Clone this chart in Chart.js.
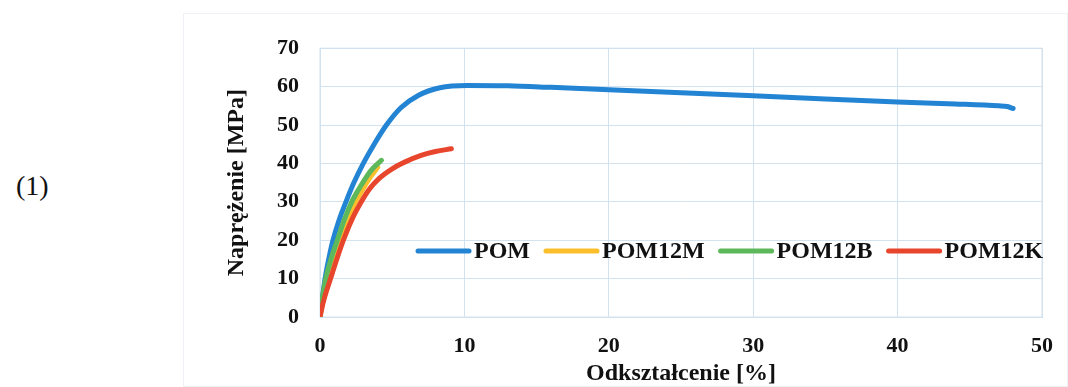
<!DOCTYPE html>
<html>
<head>
<meta charset="utf-8">
<script src="https://cdn.jsdelivr.net/npm/chart.js@4.4.1/dist/chart.umd.min.js"></script>
<style>
  html, body { margin: 0; padding: 0; background: #fff; }
  body { width: 1068px; height: 387px; position: relative; overflow: hidden; }
  #label { position: absolute; left: 16px; top: 170px; font: 28px "Liberation Serif", serif; color: #111; }
  #box { position: absolute; left: 183px; top: 13px; width: 885px; height: 374px; border: 1px solid #eef2f6; box-sizing: border-box; }
  #box canvas { position: absolute; left: 0; top: 0; }
</style>
</head>
<body>
<div id="label">(1)</div>
<div id="box"><canvas id="stressChart" width="885" height="374"></canvas></div>
<script>
    // --- Data ---
    const seriesNames = ['POM', 'POM12M', 'POM12B', 'POM12K'];
    const xTicks = [0, 10, 20, 30, 40, 50];
    const yTicks = [0, 10, 20, 30, 40, 50, 60, 70];

    const pomX = [0, 0.15, 0.35, 0.6, 0.9, 1.3, 1.8, 2.35, 3.0, 3.75, 4.6, 5.6, 6.8, 8.3, 10.2, 13, 16, 20, 25, 30, 35, 40, 44, 47, 47.6, 48];
    const pomY = [0, 4.5, 10, 15, 20, 25, 30, 35, 40, 45, 50, 54.5, 57.7, 59.7, 60.3, 60.2, 59.8, 59.2, 58.4, 57.6, 56.8, 56, 55.5, 55, 54.8, 54.3];

    const pom12mX = [0, 0.2, 0.5, 0.9, 1.35, 1.85, 2.4, 3.0, 3.5, 4.0];
    const pom12mY = [0, 4.5, 10, 15, 20, 25, 29.5, 33.5, 36.5, 39];

    const pom12bX = [0, 0.15, 0.4, 0.8, 1.2, 1.7, 2.2, 2.8, 3.5, 4.25];
    const pom12bY = [0, 4.5, 10, 15.5, 20, 25.5, 30, 34, 38, 40.8];

    const pom12kX = [0, 0.25, 0.75, 1.15, 1.6, 2.2, 2.8, 3.4, 4.1, 5.0, 5.9, 7.0, 8.0, 9.1];
    const pom12kY = [0, 4.2, 10.2, 14.9, 19.8, 25.3, 29.6, 33.2, 36.1, 38.6, 40.4, 42.1, 43.1, 43.8];

    const colors = ['#2384d4', '#fbbf2c', '#5cb85a', '#e8452d'];

    const toPoints = (xs, ys) => xs.map((x, i) => ({ x: x, y: ys[i] }));
    const allX = [pomX, pom12mX, pom12bX, pom12kX];
    const allY = [pomY, pom12mY, pom12bY, pom12kY];
    const drawOrder = [3, 2, 1, 0]; // red on top, then green, yellow, blue

    const serif = '"Liberation Serif", "DejaVu Serif", serif';
    const gridColor = '#d2e2ef';

    // Legend drawn inside the plot area, on one row
    const innerLegend = {
        id: 'innerLegend',
        afterDatasetsDraw(chart) {
            const ctx = chart.ctx;
            const y = 237;
            let x = 232;
            ctx.save();
            ctx.font = 'bold 24px ' + serif;
            ctx.textBaseline = 'middle';
            chart.data.datasets.forEach(ds => {
                ctx.strokeStyle = ds.borderColor;
                ctx.lineWidth = 5;
                ctx.lineCap = 'round';
                ctx.beginPath();
                ctx.moveTo(x + 2, y);
                ctx.lineTo(x + 53, y);
                ctx.stroke();
                ctx.fillStyle = '#111';
                ctx.fillText(ds.label, x + 58, y + 1);
                x += 58 + ctx.measureText(ds.label).width + 14;
            });
            ctx.restore();
        }
    };

    // plot frame on all four sides
    const frame = {
        id: 'frame',
        beforeDatasetsDraw(chart) {
            const a = chart.chartArea;
            chart.ctx.save();
            chart.ctx.strokeStyle = gridColor;
            chart.ctx.lineWidth = 1;
            chart.ctx.strokeRect(a.left, a.top, a.right - a.left, a.bottom - a.top);
            chart.ctx.restore();
        }
    };

    const tickFont = { family: serif, size: 22, weight: 'bold' };
    const titleFont = { family: serif, size: 24, weight: 'bold' };

    const ctx = document.getElementById('stressChart').getContext('2d');
    const stressChart = new Chart(ctx, {
        type: 'line',
        data: {
            datasets: seriesNames.map((name, i) => ({
                label: name,
                data: toPoints(allX[i], allY[i]),
                borderColor: colors[i],
                backgroundColor: colors[i],
                borderWidth: 5,
                pointRadius: 0,
                fill: false,
                cubicInterpolationMode: 'monotone',
                borderCapStyle: 'round',
                borderJoinStyle: 'round',
                order: drawOrder[i]
            }))
        },
        options: {
            responsive: false,
            animation: false,
            layout: { padding: { top: 30, right: 11, left: 0, bottom: 0 } },
            plugins: {
                legend: { display: false },
                tooltip: { enabled: false }
            },
            scales: {
                x: {
                    type: 'linear',
                    min: 0,
                    max: 50,
                    afterBuildTicks: (axis) => { axis.ticks = xTicks.map(v => ({ value: v })); },
                    afterFit: (axis) => { axis.height = 71; },
                    grid: { color: gridColor, lineWidth: 1, drawTicks: false },
                    border: { color: gridColor },
                    ticks: { color: '#111', padding: 16, font: tickFont },
                    title: {
                        display: true,
                        text: 'Odkształcenie [%]',
                        color: '#111',
                        padding: { top: 3, bottom: 0 },
                        font: titleFont
                    }
                },
                y: {
                    min: 0,
                    max: 70,
                    afterBuildTicks: (axis) => { axis.ticks = yTicks.map(v => ({ value: v })); },
                    afterFit: (axis) => { axis.width = 136; },
                    grid: { color: gridColor, lineWidth: 1, drawTicks: false },
                    border: { color: gridColor },
                    ticks: { color: '#111', padding: 21, font: tickFont },
                    title: {
                        display: true,
                        text: 'Naprężenie [MPa]',
                        color: '#111',
                        padding: { top: 38, bottom: 0 },
                        font: titleFont
                    }
                }
            }
        },
        plugins: [frame, innerLegend]
    });
</script>
</body>
</html>
